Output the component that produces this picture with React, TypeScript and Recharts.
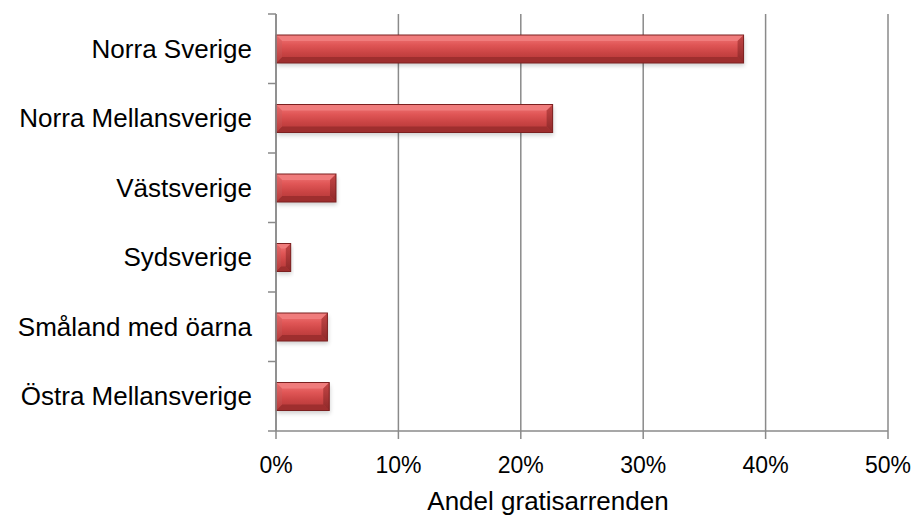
import React from "react";
import { BarChart, Bar, XAxis, YAxis, CartesianGrid, Label } from "recharts";

const regions = [
  "Norra Sverige",
  "Norra Mellansverige",
  "Västsverige",
  "Sydsverige",
  "Småland med öarna",
  "Östra Mellansverige",
];
const shares = [38.2, 22.6, 4.9, 1.2, 4.2, 4.35];
const xTicks = [0, 10, 20, 30, 40, 50];

const data = regions.map((region, i) => ({ region, share: shares[i] }));

const AXIS = "#8a8a8a";
const FONT = "'Liberation Sans', Arial, sans-serif";
const TICK_GAP = 24;
const TICK_LEN = 8;

function BevelBar(props: any) {
  const { x, y, width, height } = props;
  if (!width || width <= 0) return null;
  const b = Math.min(6, width / 3, height / 3);
  return (
    <g>
      <rect x={x + 1} y={y + 3} width={width} height={height} fill="#000" opacity={0.18} filter="url(#barShadow)" />
      <rect x={x} y={y} width={width} height={height} fill="url(#barBody)" />
      <polygon points={`${x},${y} ${x + width},${y} ${x + width - b},${y + b} ${x + b},${y + b}`} fill="#f07c7c" />
      <polygon
        points={`${x},${y + height} ${x + width},${y + height} ${x + width - b},${y + height - b} ${x + b},${y + height - b}`}
        fill="#9e2e2e"
      />
      <polygon points={`${x},${y} ${x + b},${y + b} ${x + b},${y + height - b} ${x},${y + height}`} fill="url(#barSide)" />
      <polygon
        points={`${x + width},${y} ${x + width - b},${y + b} ${x + width - b},${y + height - b} ${x + width},${y + height}`}
        fill="url(#barSideDark)"
      />
      <rect x={x} y={y} width={width} height={height} fill="none" stroke="#7c2020" strokeWidth={1} />
    </g>
  );
}

// category label at band centre, tick marks at the band edges
function RegionTick(props: any) {
  const { x, y, payload, index, visibleTicksCount } = props;
  const half = payload?.offset ?? 0;
  const axisX = x + TICK_GAP;
  const isLast = index === visibleTicksCount - 1;
  return (
    <g>
      {half > 0 && (
        <line x1={axisX - TICK_LEN} x2={axisX} y1={y - half} y2={y - half} stroke={AXIS} strokeWidth={1.5} />
      )}
      {half > 0 && isLast && (
        <line x1={axisX - TICK_LEN} x2={axisX} y1={y + half} y2={y + half} stroke={AXIS} strokeWidth={1.5} />
      )}
      <text x={x} y={y} dy="0.355em" textAnchor="end" fill="#000" fontSize={26} fontFamily={FONT}>
        {payload.value}
      </text>
    </g>
  );
}

export default function App() {
  return (
    <div style={{ position: "absolute", left: 0, top: 0, background: "#fff" }}>
      <BarChart
        layout="vertical"
        width={918}
        height={518}
        data={data}
        margin={{ top: 14, right: 30, left: 0, bottom: 0 }}
        style={{ fontFamily: FONT }}
      >
        <defs>
          <linearGradient id="barBody" x1="0" y1="0" x2="0" y2="1">
            <stop offset="0%" stopColor="#f27a7a" />
            <stop offset="35%" stopColor="#e05656" />
            <stop offset="65%" stopColor="#c94343" />
            <stop offset="100%" stopColor="#b03636" />
          </linearGradient>
          <linearGradient id="barSide" x1="0" y1="0" x2="0" y2="1">
            <stop offset="0%" stopColor="#e86a6a" />
            <stop offset="100%" stopColor="#b53a3a" />
          </linearGradient>
          <linearGradient id="barSideDark" x1="0" y1="0" x2="0" y2="1">
            <stop offset="0%" stopColor="#c44646" />
            <stop offset="100%" stopColor="#8e2828" />
          </linearGradient>
          <filter id="barShadow" x="-10%" y="-30%" width="120%" height="160%">
            <feGaussianBlur stdDeviation="2" />
          </filter>
        </defs>
        <CartesianGrid horizontal={false} stroke={AXIS} strokeWidth={1.5} />
        <XAxis
          type="number"
          domain={[0, 50]}
          ticks={xTicks}
          tickFormatter={(v) => `${v}%`}
          height={87}
          tickSize={8}
          tickMargin={18}
          stroke={AXIS}
          strokeWidth={1.5}
          tick={{ fill: "#000", fontSize: 23, fontFamily: FONT }}
        >
          <Label
            value="Andel gratisarrenden"
            position="insideBottom"
            offset={8}
            dx={-34}
            style={{ fill: "#000", fontSize: 26, fontFamily: FONT }}
          />
        </XAxis>
        <YAxis
          type="category"
          dataKey="region"
          width={276}
          tickLine={false}
          tickSize={0}
          tickMargin={TICK_GAP}
          interval={0}
          stroke={AXIS}
          strokeWidth={1.5}
          tick={RegionTick}
        />
        <Bar dataKey="share" barSize={28} shape={<BevelBar />} isAnimationActive={false} />
      </BarChart>
    </div>
  );
}
